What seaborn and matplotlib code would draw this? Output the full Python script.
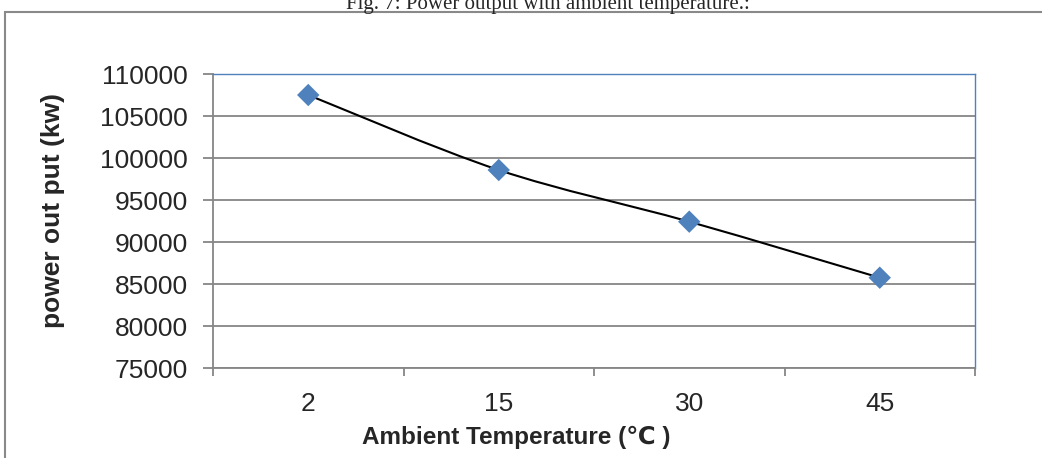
import matplotlib

matplotlib.use("Agg")
import matplotlib.pyplot as plt
import numpy as np
import seaborn as sns
from matplotlib.patches import PathPatch, Rectangle
from matplotlib.path import Path

# data
temperatures = ["2", "15", "30", "45"]
power_output = [107500, 98570, 92420, 85750]
y_ticks = [75000, 80000, 85000, 90000, 95000, 100000, 105000, 110000]

GRID = "#868686"
BLUE = "#4F81BD"
SANS = ["Liberation Sans", "DejaVu Sans"]


def smooth_path(xs, ys):
    """Excel-style smoothed line: cubic Bezier through every point."""
    pts = np.column_stack([xs, ys]).astype(float)
    ext = np.vstack([pts[0], pts, pts[-1]])
    verts = [tuple(pts[0])]
    codes = [Path.MOVETO]
    for i in range(len(pts) - 1):
        p0, p1, p2, p3 = ext[i], ext[i + 1], ext[i + 2], ext[i + 3]
        c1 = p1 + (p2 - p0) / 6.0
        c2 = p2 - (p3 - p1) / 6.0
        verts += [tuple(c1), tuple(c2), tuple(p2)]
        codes += [Path.CURVE4] * 3
    return Path(verts, codes)


sns.set_theme(style="white")
plt.rcParams["font.family"] = SANS

fig = plt.figure(figsize=(10.42, 4.58), dpi=100)
ax = fig.add_axes([213 / 1042, 1 - 368 / 458, 762 / 1042, 294 / 458])

positions = np.arange(len(temperatures))
ax.add_patch(PathPatch(smooth_path(positions, power_output), facecolor="none",
                       edgecolor="black", lw=1.5, zorder=2))
sns.scatterplot(x=positions, y=power_output, marker="D", s=130, color=BLUE,
                edgecolor="none", ax=ax, zorder=3)

ax.set_xlim(-0.5, len(temperatures) - 0.5)
ax.set_ylim(y_ticks[0], y_ticks[-1])
ax.set_yticks(y_ticks)
ax.set_yticklabels([str(v) for v in y_ticks])
ax.yaxis.grid(True, color=GRID, lw=1.3)
ax.set_axisbelow(True)

# category boundaries get the ticks, centres get the labels
ax.set_xticks(np.arange(-0.5, len(temperatures), 1.0))
ax.set_xticklabels([])
ax.set_xticks(positions, minor=True)
ax.set_xticklabels(temperatures, minor=True)
ax.tick_params(axis="x", which="minor", length=0, pad=17, labelsize=19)
ax.tick_params(axis="x", which="major", length=6, width=1.3, color=GRID,
               direction="out", bottom=True)
ax.tick_params(axis="y", length=7, width=1.3, color=GRID, direction="out",
               left=True, pad=11, labelsize=19)

for side in ("left", "bottom"):
    ax.spines[side].set_color(GRID)
    ax.spines[side].set_linewidth(1.3)
for side in ("top", "right"):
    ax.spines[side].set_color(BLUE)
    ax.spines[side].set_linewidth(1.0)

ax.set_xlabel("")
ax.set_ylabel("")
fig.text(516 / 1042, 1 - 437 / 458, "Ambient Temperature (\u2103 )", ha="center",
         va="center", fontsize=17.5, fontweight="bold", family=SANS)
fig.text(53 / 1042, 1 - 210 / 458, "power out put (kw)", ha="center", va="center",
         rotation=90, fontsize=19, fontweight="bold", family=SANS)

# outer chart-area border and the clipped caption above it
fig.patches.append(Rectangle((5 / 1042, -0.2), 1.2, 1.2 - 12 / 458,
                             transform=fig.transFigure, fill=False,
                             edgecolor="#898989", lw=1.5))
fig.text(548 / 1042, 1 - 9 / 458, "Fig. 7: Power output with ambient temperature.:",
         ha="center", va="baseline", fontsize=15,
         family=["Liberation Serif", "DejaVu Serif"])

fig.savefig("out.png", dpi=100)
